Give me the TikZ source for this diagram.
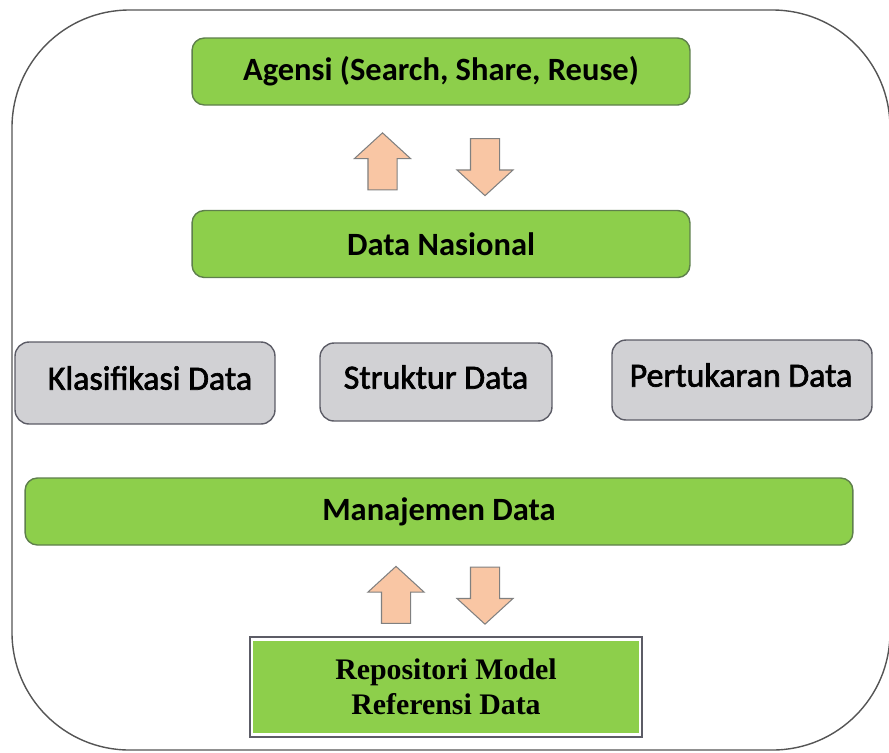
\documentclass[tikz,border=0pt]{standalone}
\usepackage{fontspec}
\setmainfont{Carlito}
\newfontfamily\reposfont{Liberation Serif}
\newfontfamily\grayfont[FakeBold=2]{Carlito}
\usetikzlibrary{shapes.arrows,positioning}

\definecolor{boxgreen}{HTML}{8DCF4B}
\definecolor{greenline}{HTML}{5E7F4C}
\definecolor{boxgray}{HTML}{D1D1D4}
\definecolor{grayline}{HTML}{5C5C66}
\definecolor{arrowfill}{HTML}{F9C6A4}
\definecolor{arrowline}{HTML}{808080}
\definecolor{frameline}{HTML}{555555}

\tikzset{
  greenbox/.style={draw=greenline, fill=boxgreen, rounded corners=7pt, line width=0.8pt,
    minimum height=1.34cm, font=\fontsize{18.5}{22}\selectfont\bfseries},
  graybox/.style={draw=grayline, fill=boxgray, rounded corners=8pt, line width=0.8pt},
  graytext/.style={font=\grayfont\fontsize{19.3}{23}\selectfont},
  blockarrow/.style={single arrow, draw=arrowline, fill=arrowfill, line width=0.6pt,
    inner xsep=0pt, inner ysep=0.28cm, minimum height=1.14cm, minimum width=1.1cm,
    single arrow head extend=0.27cm, single arrow tip angle=95}
}

\begin{document}
\begin{tikzpicture}[x=0.02cm,y=-0.02cm]
  \useasboundingbox (0,0) rectangle (889,752);
  \draw[frameline, line width=0.8pt, rounded corners=2.35cm] (12,10) rectangle (890,750);

  \node[greenbox, minimum width=9.96cm] (agensi) at (441,71.5) {Agensi (Search, Share, Reuse)};
  \node[greenbox, minimum width=9.96cm] (nasional) at (441,244) {Data Nasional};

  \node[blockarrow, rotate=90] (upA) at (382.5,168) {};
  \node[blockarrow, rotate=-90] (downA) at (485,160.5) {};

  \node[graybox, minimum width=5.2cm, minimum height=1.64cm] (klasifikasi) at (145,383) {};
  \node[graytext] (klasifikasiT) at (150,378) {Klasifikasi Data};
  \node[graybox, minimum width=4.64cm, minimum height=1.56cm] (struktur) at (436,382) {};
  \node[graytext] (strukturT) at (436,377) {Struktur Data};
  \node[graybox, minimum width=5.2cm, minimum height=1.6cm] (pertukaran) at (742,380) {};
  \node[graytext] (pertukaranT) at (741,375) {Pertukaran Data};

  \node[greenbox, minimum width=16.56cm] (manajemen) at (439,511.5) {Manajemen Data};

  \node[blockarrow, rotate=90] (upB) at (396,601.5) {};
  \node[blockarrow, rotate=-90] (downB) at (485,589) {};

  \node[fill=boxgreen, draw=white, line width=1.5pt,
    preaction={draw=grayline, line width=3.5pt},
    minimum width=7.76cm, minimum height=1.9cm, align=center,
    font=\reposfont\fontsize{17}{20}\selectfont\bfseries] (repositori) at (446,687)
    {Repositori Model\\Referensi Data};
\end{tikzpicture}
\end{document}
